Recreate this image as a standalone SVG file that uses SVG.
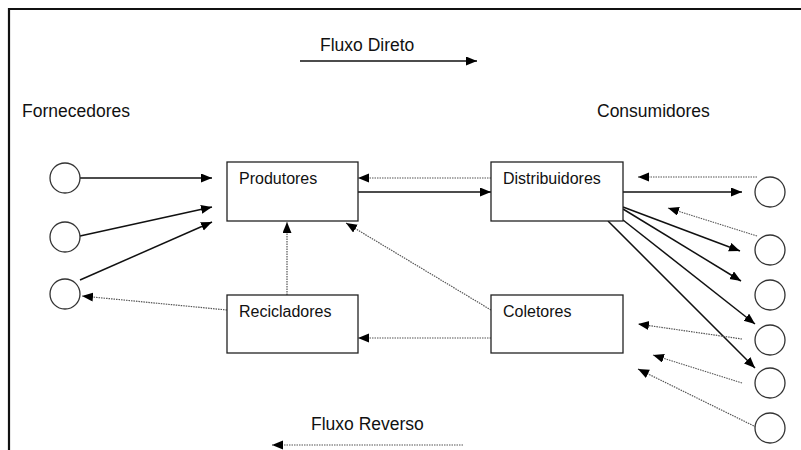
<svg xmlns="http://www.w3.org/2000/svg" width="801" height="450" viewBox="0 0 801 450">
<defs>
<marker id="ah" markerUnits="userSpaceOnUse" markerWidth="12" markerHeight="10" refX="11" refY="4.5" orient="auto">
<path d="M0,0 L11,4.5 L0,9 Z" fill="#000"/>
</marker>
<style>
.box{fill:#fff;stroke:#222;stroke-width:1.3}
.cir{fill:#fff;stroke:#333;stroke-width:1.3}
.lbl{font-family:"Liberation Sans",Arial,sans-serif;font-size:16px;fill:#111}
.big{font-family:"Liberation Sans",Arial,sans-serif;font-size:17.5px;fill:#111}
.sol{stroke:#111;stroke-width:1.5;fill:none;marker-end:url(#ah)}
.dot{stroke:#555;stroke-width:1.2;stroke-dasharray:1.5 1;fill:none;marker-end:url(#ah)}
</style>
</defs>
<rect width="801" height="450" fill="#fff"/>
<path d="M9,450 L9,9 L801,9" fill="none" stroke="#111" stroke-width="2.2"/>
<text class="big" x="320" y="51">Fluxo Direto</text>
<text class="big" x="22" y="117">Fornecedores</text>
<text class="big" x="597" y="117">Consumidores</text>
<text class="big" x="311" y="430">Fluxo Reverso</text>
<g id="connectors">
<line class="sol" x1="300" y1="61" x2="477" y2="61"/>
<line class="dot" x1="463" y1="445" x2="272" y2="445"/>
<line class="sol" x1="80" y1="178" x2="212" y2="178"/>
<line class="sol" x1="80" y1="236" x2="212" y2="207"/>
<line class="sol" x1="80" y1="280" x2="212" y2="222"/>
<line class="dot" x1="227" y1="310" x2="82" y2="296"/>
<line class="dot" x1="287" y1="295" x2="287" y2="222"/>
<line class="dot" x1="491" y1="310" x2="346" y2="223"/>
<line class="dot" x1="491" y1="338" x2="358" y2="338"/>
<line class="dot" x1="491" y1="178" x2="358" y2="178"/>
<line class="sol" x1="358" y1="192" x2="491" y2="192"/>
<line class="dot" x1="757" y1="177" x2="638" y2="177"/>
<line class="sol" x1="623" y1="192" x2="742" y2="192"/>
<line class="dot" x1="757" y1="236" x2="668" y2="208"/>
<line class="sol" x1="623" y1="207" x2="740" y2="251"/>
<line class="sol" x1="623" y1="209" x2="741" y2="281"/>
<line class="sol" x1="623" y1="220" x2="755" y2="324"/>
<line class="sol" x1="608" y1="221" x2="755" y2="368"/>
<line class="dot" x1="742" y1="339" x2="638" y2="324"/>
<line class="dot" x1="742" y1="383" x2="653" y2="355"/>
<line class="dot" x1="756" y1="427" x2="638" y2="369"/>
</g>
<g id="fornecedor1"><circle class="cir" cx="65" cy="178" r="15"/></g>
<g id="fornecedor2"><circle class="cir" cx="65" cy="237" r="15"/></g>
<g id="fornecedor3"><circle class="cir" cx="65" cy="294" r="15"/></g>
<g id="consumidor1"><circle class="cir" cx="770" cy="192" r="15"/></g>
<g id="consumidor2"><circle class="cir" cx="770" cy="250" r="15"/></g>
<g id="consumidor3"><circle class="cir" cx="770" cy="295" r="15"/></g>
<g id="consumidor4"><circle class="cir" cx="770" cy="340" r="15"/></g>
<g id="consumidor5"><circle class="cir" cx="770" cy="383" r="15"/></g>
<g id="consumidor6"><circle class="cir" cx="770" cy="428" r="15"/></g>
<g id="produtores"><rect class="box" x="227" y="162" width="131" height="59"/><text class="lbl" x="239" y="184">Produtores</text></g>
<g id="distribuidores"><rect class="box" x="491" y="162" width="132" height="59"/><text class="lbl" x="503" y="184">Distribuidores</text></g>
<g id="recicladores"><rect class="box" x="227" y="295" width="131" height="58"/><text class="lbl" x="239" y="317">Recicladores</text></g>
<g id="coletores"><rect class="box" x="491" y="295" width="132" height="58"/><text class="lbl" x="503" y="317">Coletores</text></g>
</svg>
